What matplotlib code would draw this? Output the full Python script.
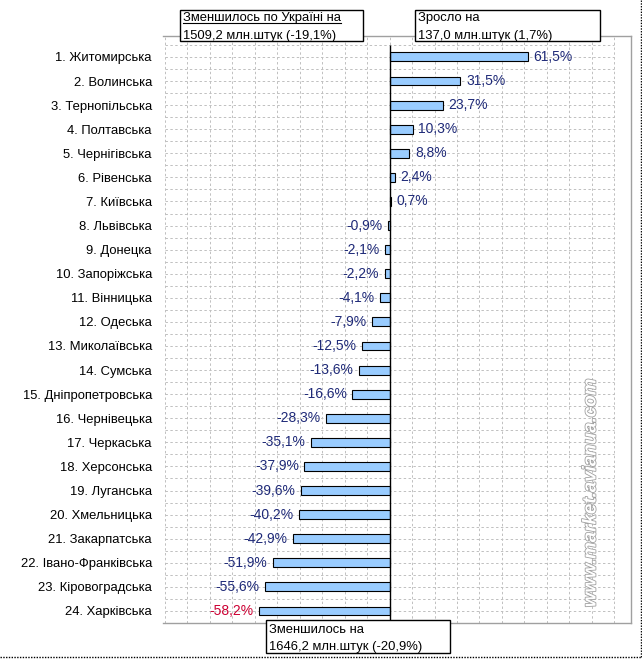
import matplotlib
matplotlib.use('Agg')
import matplotlib.pyplot as plt
import matplotlib.patheffects as pe
from matplotlib.patches import Rectangle
from matplotlib.lines import Line2D
import numpy as np

plt.rcParams['font.family'] = ['Liberation Sans', 'DejaVu Sans']

# Data
regions = ['1. Житомирська', '2. Волинська', '3. Тернопільська', '4. Полтавська',
           '5. Чернігівська', '6. Рівенська', '7. Київська', '8. Львівська',
           '9. Донецка', '10. Запоріжська', '11. Вінницька', '12. Одеська',
           '13. Миколаївська', '14. Сумська', '15. Дніпропетровська', '16. Чернівецька',
           '17. Черкаська', '18. Херсонська', '19. Луганська', '20. Хмельницька',
           '21. Закарпатська', '22. Івано-Франківська', '23. Кіровоградська', '24. Харківська']
changes = [61.5, 31.5, 23.7, 10.3, 8.8, 2.4, 0.7, -0.9, -2.1, -2.2, -4.1, -7.9,
           -12.5, -13.6, -16.6, -28.3, -35.1, -37.9, -39.6, -40.2, -42.9, -51.9,
           -55.6, -58.2]

box_left = ['Зменшилось по Україні на', '1509,2 млн.штук (-19,1%)']
box_right = ['Зросло на', '137,0 млн.штук (1,7%)']
box_bottom = ['Зменшилось на', '1646,2 млн.штук (-20,9%)']

W, H = 642, 659


def fx(x):
    return x / W


def fy(y):
    return 1 - y / H


fig = plt.figure(figsize=(W / 100, H / 100), dpi=100)
ax = fig.add_axes([fx(163), fy(623), (631 - 163) / W, (623 - 36) / H])

ypos = np.arange(len(regions))

# grid
for gx in np.arange(-100, 101, 10):
    ax.axvline(gx, color='#C0C0C0', lw=0.7, ls=(0, (2.5, 2.5)), zorder=1)
ax.hlines(np.arange(-0.5, 24, 0.5), -100, 100, color='#C0C0C0', lw=0.7,
          ls=(0, (2.5, 2.5)), zorder=1)

ax.barh(ypos, changes, height=0.37, color='#99CCFF', edgecolor='black',
        linewidth=0.8, zorder=3)
ax.vlines(0, -0.5, 23.5, color='black', lw=1.0, zorder=4)

for i, v in enumerate(changes):
    txt = f'{v:.1f}%'.replace('.', ',')
    col = '#CC0033' if i == len(changes) - 1 else '#1F2A78'
    if v >= 0:
        ax.annotate(txt, (v, i), xytext=(4, 0), textcoords='offset points',
                    ha='left', va='center', fontsize=10, color=col, zorder=5)
    else:
        ax.annotate(txt, (v, i), xytext=(-4, 0), textcoords='offset points',
                    ha='right', va='center', fontsize=10, color=col, zorder=5)

ax.set_xlim((163 - 389.6) / 2.2465, (631 - 389.6) / 2.2465)
ax.set_ylim(23.5, -0.87)
ax.set_yticks(ypos)
ax.set_yticklabels(regions, fontsize=9.4)
ax.set_xticks([])
ax.tick_params(axis='y', length=0, pad=8)
ax.spines['left'].set_visible(False)
for s in ['top', 'right', 'bottom']:
    ax.spines[s].set_color('#A0A0A0')
    ax.spines[s].set_linewidth(1.0)


# annotation boxes
def draw_box(x0, y0, x1, y1, lines, base1, base2, underline=False):
    fig.add_artist(Rectangle((fx(x0), fy(y1)), (x1 - x0) / W, (y1 - y0) / H,
                             transform=fig.transFigure, facecolor='white',
                             edgecolor='black', lw=1.0, zorder=10))
    t1 = fig.text(fx(x0 + 3), fy(y0 + base1), lines[0], fontsize=9.4,
                  va='baseline', ha='left', zorder=11)
    fig.text(fx(x0 + 3), fy(y0 + base2), lines[1], fontsize=9.4,
             va='baseline', ha='left', zorder=11)
    if underline:
        fig.canvas.draw()
        bb = t1.get_window_extent()
        uy = fy(y0 + base1 + 1.5)
        fig.add_artist(Line2D([bb.x0 / W, bb.x1 / W], [uy, uy],
                              transform=fig.transFigure, color='black',
                              lw=0.8, zorder=11))


draw_box(180, 10, 363, 41, box_left, 11.5, 29, underline=True)
draw_box(415, 10, 600, 41, box_right, 11.5, 29)
draw_box(266, 620, 450, 653, box_bottom, 13, 30)

# watermark
fig.text(fx(591), fy(493), 'www.market.avianua.com', rotation=90, fontsize=13.5,
         fontweight='bold', style='italic', color='white', ha='center', va='center',
         path_effects=[pe.withStroke(linewidth=1.2, foreground='#A0A0A0')], zorder=2)

# dotted outer border
fig.add_artist(Line2D([fx(0), fx(641)], [fy(657), fy(657)], transform=fig.transFigure,
                      color='black', lw=1.0, ls=(0, (1, 1))))
fig.add_artist(Line2D([fx(641), fx(641)], [fy(0), fy(657)], transform=fig.transFigure,
                      color='black', lw=1.0, ls=(0, (1, 1))))

fig.savefig('out.png', dpi=100)
